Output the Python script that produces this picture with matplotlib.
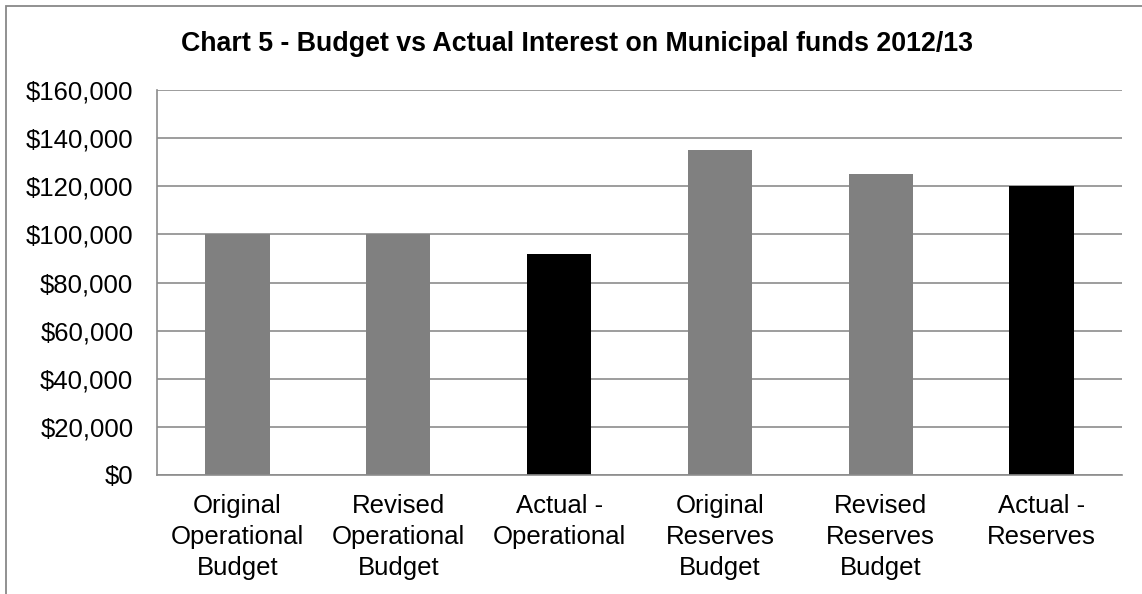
import matplotlib.pyplot as plt
from matplotlib.patches import Rectangle
from matplotlib.ticker import FuncFormatter

categories = [
    "Original\nOperational\nBudget",
    "Revised\nOperational\nBudget",
    "Actual -\nOperational",
    "Original\nReserves\nBudget",
    "Revised\nReserves\nBudget",
    "Actual -\nReserves",
]
amounts = [100000, 100000, 92000, 135000, 125000, 120000]
bar_colors = ["#808080", "#808080", "#000000", "#808080", "#808080", "#000000"]

plt.rcParams["font.family"] = ["Liberation Sans", "DejaVu Sans"]

fig = plt.figure(figsize=(11.42, 5.94), dpi=100)
W, H = 1142, 594

# outer chart frame (only left and top edges fall inside the image)
fig.patches.append(Rectangle((6 / W, -0.1), 1.2, 1 - 6 / H + 0.1, transform=fig.transFigure,
                             fill=False, edgecolor="#888888", linewidth=1.3))

ax = fig.add_axes([157 / W, 1 - 475 / H, (1122 - 157) / W, (475 - 90) / H])

x = range(len(categories))
ax.bar(x, amounts, width=0.4, color=bar_colors, zorder=3)

ax.set_xlim(-0.5, len(categories) - 0.5)
ax.set_ylim(0, 160000)
ax.set_yticks(range(0, 160001, 20000))
ax.yaxis.set_major_formatter(FuncFormatter(lambda v, p: f"${int(v):,}"))
ax.set_xticks(list(x))
ax.set_xticklabels(categories, linespacing=1.35)

ax.grid(axis="y", color="#8c8c8c", linewidth=1.2, zorder=0)
for side in ("top", "right"):
    ax.spines[side].set_visible(False)
for side in ("left", "bottom"):
    ax.spines[side].set_color("#8c8c8c")
    ax.spines[side].set_linewidth(1.2)
ax.spines["bottom"].set_zorder(4)

ax.tick_params(axis="both", length=0, labelsize=18.5, colors="black")
ax.tick_params(axis="y", pad=17)
ax.tick_params(axis="x", pad=14)

fig.text(577 / W, 1 - 44 / H, "Chart 5 - Budget vs Actual Interest on Municipal funds 2012/13",
         ha="center", va="center", fontsize=19.3, fontweight="bold")

fig.savefig("out.png", dpi=100)
